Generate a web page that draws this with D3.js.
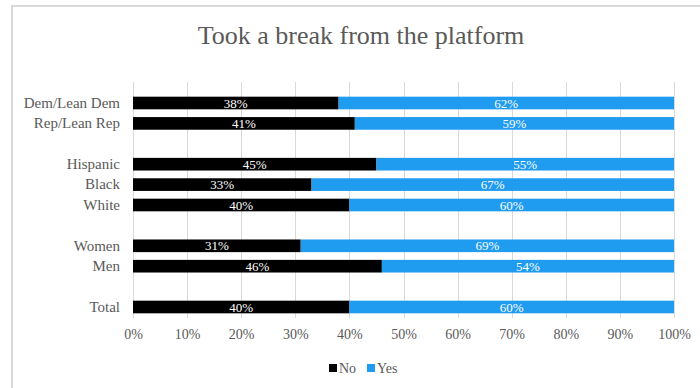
<!DOCTYPE html>
<html>
<head>
<meta charset="utf-8">
<script src="https://cdn.jsdelivr.net/npm/d3@7"></script>
<style>
  body { margin: 0; background: #fff; }
  svg { display: block; font-family: "Liberation Serif", "Times New Roman", serif; }
  .grid line { stroke: #d9d9d9; stroke-width: 1; }
  .axis text { fill: #595959; font-size: 14px; font-family: "Liberation Serif", "Times New Roman", serif; }
  .axis.cat text { font-size: 15px; }
  .seglabel { fill: #fff; font-size: 13px; text-anchor: middle; }
</style>
</head>
<body>
<div id="chart"></div>
<script>
// chart data (top to bottom, blank names = spacer rows)
var categories = ["Dem/Lean Dem", "Rep/Lean Rep", "", "Hispanic", "Black", "White", " ", "Women", "Men", "  ", "Total"];
var noValues  = [38, 41, null, 45, 33, 40, null, 31, 46, null, 40];
var yesValues = [62, 59, null, 55, 67, 60, null, 69, 54, null, 60];
var xTicks = [0, 10, 20, 30, 40, 50, 60, 70, 80, 90, 100];
var seriesNames = ["No", "Yes"];
var seriesColors = ["#000000", "#1f9bef"];

var width = 700, height = 388;

var svg = d3.select("#chart").append("svg")
    .attr("width", width)
    .attr("height", height);

// outer chart border (cut off at right and bottom)
svg.append("rect")
    .attr("x", 12)
    .attr("y", 6)
    .attr("width", 720)
    .attr("height", 420)
    .attr("fill", "none")
    .attr("stroke", "#d9d9d9")
    .attr("stroke-width", 2);

// title
svg.append("text")
    .attr("x", 361)
    .attr("y", 44)
    .attr("text-anchor", "middle")
    .attr("fill", "#595959")
    .style("font-size", "26px")
    .text("Took a break from the platform");

var x = d3.scaleLinear()
    .domain([0, 100])
    .range([133, 674]);

var y = d3.scaleBand()
    .domain(categories)
    .range([92.8, 317.2])
    .paddingInner(0.38)
    .paddingOuter(0.19);

// vertical gridlines
svg.append("g")
    .attr("class", "grid")
    .selectAll("line")
    .data(xTicks)
    .enter()
    .append("line")
    .attr("x1", function (d) { return Math.round(x(d)) + 0.5; })
    .attr("x2", function (d) { return Math.round(x(d)) + 0.5; })
    .attr("y1", 82)
    .attr("y2", 318);

var rows = categories.map(function (c, i) {
    return { cat: c, no: noValues[i], yes: yesValues[i] };
}).filter(function (d) { return d.no !== null; });

// No segments
svg.append("g").selectAll("rect")
    .data(rows)
    .enter()
    .append("rect")
    .attr("x", x(0))
    .attr("y", function (d) { return y(d.cat); })
    .attr("width", function (d) { return x(d.no) - x(0); })
    .attr("height", y.bandwidth())
    .attr("fill", seriesColors[0]);

// Yes segments
svg.append("g").selectAll("rect")
    .data(rows)
    .enter()
    .append("rect")
    .attr("x", function (d) { return x(d.no); })
    .attr("y", function (d) { return y(d.cat); })
    .attr("width", function (d) { return x(d.no + d.yes) - x(d.no); })
    .attr("height", y.bandwidth())
    .attr("fill", seriesColors[1]);

// segment labels
var labels = svg.append("g");
labels.selectAll("text.no")
    .data(rows)
    .enter()
    .append("text")
    .attr("class", "seglabel")
    .attr("x", function (d) { return (x(0) + x(d.no)) / 2; })
    .attr("y", function (d) { return y(d.cat) + y.bandwidth() / 2 + 4.5; })
    .text(function (d) { return d.no + "%"; });
labels.selectAll("text.yes")
    .data(rows)
    .enter()
    .append("text")
    .attr("class", "seglabel")
    .attr("x", function (d) { return (x(d.no) + x(d.no + d.yes)) / 2; })
    .attr("y", function (d) { return y(d.cat) + y.bandwidth() / 2 + 4.5; })
    .text(function (d) { return d.yes + "%"; });

// category axis
var yAxis = svg.append("g")
    .attr("class", "axis cat")
    .attr("transform", "translate(" + (x(0) - 13) + ",0)")
    .call(d3.axisLeft(y).tickSize(0).tickPadding(0));
yAxis.attr("font-family", null).attr("font-size", null);
yAxis.select(".domain").remove();

// value axis
var xAxis = svg.append("g")
    .attr("class", "axis")
    .attr("transform", "translate(0,323)")
    .call(d3.axisBottom(x).tickValues(xTicks).tickSize(0).tickPadding(6)
        .tickFormat(function (d) { return d + "%"; }));
xAxis.attr("font-family", null).attr("font-size", null);
xAxis.select(".domain").remove();

// legend
var legendX = [329, 367];
var legend = svg.append("g").selectAll("g")
    .data(seriesNames)
    .enter()
    .append("g")
    .attr("transform", function (d, i) { return "translate(" + legendX[i] + ",364)"; });
legend.append("rect")
    .attr("width", 8)
    .attr("height", 8)
    .attr("fill", function (d, i) { return seriesColors[i]; });
legend.append("text")
    .attr("x", 10)
    .attr("y", 9)
    .attr("fill", "#595959")
    .style("font-size", "14px")
    .text(function (d) { return d; });
</script>
</body>
</html>
